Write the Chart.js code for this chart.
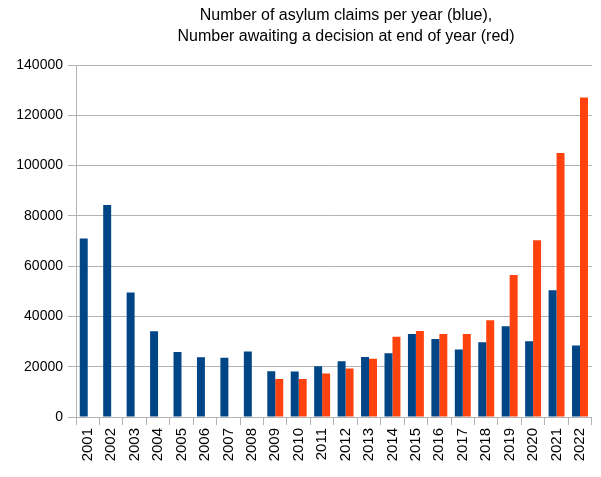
<!DOCTYPE html>
<html>
<head>
<meta charset="utf-8">
<script src="https://cdn.jsdelivr.net/npm/chart.js@4/dist/chart.umd.min.js"></script>
<style>
  html, body { margin: 0; padding: 0; background: #fff; }
  #wrap { width: 601px; height: 477px; }
</style>
</head>
<body>
<div id="wrap"><canvas id="ChartAsilo" width="601" height="477"></canvas></div>
<script>
const years = ['2001','2002','2003','2004','2005','2006','2007','2008','2009','2010','2011',
               '2012','2013','2014','2015','2016','2017','2018','2019','2020','2021','2022'];
const claims = [71000, 84300, 49500, 34100, 25900, 23800, 23600, 26100, 18200, 18100, 20200,
                22200, 23900, 25400, 33000, 31000, 26800, 29700, 36100, 30100, 50400, 28400];
const awaiting = [null, null, null, null, null, null, null, null, 15100, 15100, 17300,
                  19300, 23200, 31900, 34200, 33000, 33000, 38500, 56500, 70300, 105000, 127100];
const titleLines = ['Number of asylum claims per year (blue),',
                    'Number awaiting a decision at end of year (red)'];

const fuente = 'Liberation Sans, Arial, sans-serif';
const gris = '#b3b3b3';

// titulo centrado sobre el area del grafico como en el original
const tituloPlugin = {
    id: 'tituloPlugin',
    afterDraw(chart) {
        const ctx = chart.ctx;
        ctx.save();
        ctx.font = '16px ' + fuente;
        ctx.fillStyle = '#000';
        ctx.textAlign = 'center';
        ctx.textBaseline = 'middle';
        ctx.fillText(titleLines[0], 346, 16);
        ctx.fillText(titleLines[1], 346, 37);
        ctx.restore();
    }
};

const ctx = document.getElementById('ChartAsilo').getContext('2d');

const chartAsilo = new Chart(ctx, {
    type: 'bar',
    data: {
        labels: years,
        datasets: [{
            label: 'Asylum claims',
            data: claims,
            backgroundColor: '#004586',
            categoryPercentage: 0.68,
            barPercentage: 1.0
        }, {
            label: 'Awaiting decision',
            data: awaiting,
            backgroundColor: '#ff420e',
            categoryPercentage: 0.68,
            barPercentage: 1.0
        }]
    },
    options: {
        responsive: false,
        animation: false,
        layout: { padding: { top: 65, left: 0, right: 0, bottom: 0 } },
        plugins: {
            legend: { display: false },
            title: { display: false },
            tooltip: { enabled: false }
        },
        scales: {
            x: {
                afterFit: (scale) => { scale.height = 60; },
                grid: {
                    offset: true,
                    drawOnChartArea: false,
                    drawTicks: true,
                    tickLength: 8,
                    color: gris
                },
                border: { color: gris },
                ticks: {
                    minRotation: 90,
                    maxRotation: 90,
                    padding: 3,
                    color: '#000',
                    font: { family: fuente, size: 15 }
                }
            },
            y: {
                min: 0,
                max: 140000,
                afterFit: (scale) => { scale.width = 76; },
                grid: {
                    color: gris,
                    drawTicks: true,
                    tickLength: 8
                },
                border: { color: gris },
                ticks: {
                    stepSize: 20000,
                    padding: 5,
                    color: '#000',
                    font: { family: fuente, size: 14 },
                    callback: (valor) => String(valor)
                }
            }
        }
    },
    plugins: [tituloPlugin]
});
</script>
</body>
</html>
